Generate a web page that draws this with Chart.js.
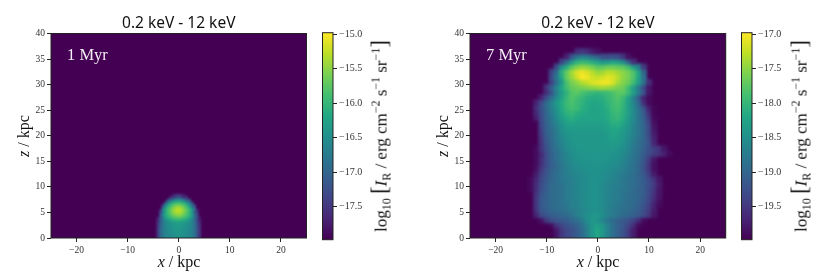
<!DOCTYPE html>
<html>
<head>
<meta charset="utf-8">
<title>X-ray surface brightness maps</title>
<script src="https://cdn.jsdelivr.net/npm/chart.js@4"></script>
<style>
    html, body { margin: 0; padding: 0; background: #fff; }
    #page { position: relative; width: 830px; height: 274px; overflow: hidden; filter: blur(0.3px); }
    canvas { position: absolute; top: 0; }
    .lbl { position: absolute; white-space: nowrap; font-family: "Liberation Serif", serif; color: #111; transform: translate(-50%, -50%); font-size: 16px; line-height: 1; }
    .rot { transform: translate(-50%, -50%) rotate(-90deg); }
    .wide { font-size: 17px; font-weight: 400; }
    .age { color: #f4eef4; font-size: 16.5px; transform: none; }
    .lbl i { font-style: italic; }
    .lbl sub, .lbl sup { font-size: 0.7em; line-height: 0; }
    .big { font-size: 1.35em; }
</style>
</head>
<body>
<div id="page">
    <canvas id="map1" width="322" height="274" style="left:0"></canvas>
    <canvas id="bar1" width="93" height="274" style="left:322px"></canvas>
    <canvas id="map7" width="322" height="274" style="left:415px"></canvas>
    <canvas id="bar7" width="89" height="274" style="left:741px"></canvas>

    <div class="lbl" style="left:179px;top:262px"><i>x</i> / kpc</div>
    <div class="lbl rot" style="left:24px;top:136px"><i>z</i> / kpc</div>
    <div class="lbl rot wide" style="left:380px;top:136px">log<sub>10</sub> <span class="big">[</span><i>I</i><sub>R</sub> / erg cm<sup>−2</sup> s<sup>−1</sup> sr<sup>−1</sup><span class="big">]</span></div>
    <div class="lbl age" style="left:67px;top:47px">1 Myr</div>

    <div class="lbl" style="left:598px;top:262px"><i>x</i> / kpc</div>
    <div class="lbl rot" style="left:443px;top:136px"><i>z</i> / kpc</div>
    <div class="lbl rot wide" style="left:800px;top:136px">log<sub>10</sub> <span class="big">[</span><i>I</i><sub>R</sub> / erg cm<sup>−2</sup> s<sup>−1</sup> sr<sup>−1</sup><span class="big">]</span></div>
    <div class="lbl age" style="left:486px;top:47px">7 Myr</div>
</div>

<script>
const titleText = "0.2 keV - 12 keV";
const xTicks = [-20, -10, 0, 10, 20];
const zTicks = [0, 5, 10, 15, 20, 25, 30, 35, 40];
const barTicks1 = [-15, -15.5, -16, -16.5, -17, -17.5];
const barTicks7 = [-17, -17.5, -18, -18.5, -19, -19.5];
const range1 = [-17.98, -14.98];
const range7 = [-19.98, -16.98];
const viridis = ["#440154", "#482475", "#414487", "#355f8d", "#2a788e", "#21918c", "#22a884", "#44bf70", "#7ad151", "#bddf26", "#fde725"];

// 1 Myr map, cells 0.5 kpc, one row per z step from z = 0.25 up
const cell1 = 0.5;
const start1 = [-4, -4, -4, -4, -4, -4, -4, -4, -3.5, -3.5, -3.5, -3, -3, -2.5, -2, -1.5, -1];
const rows1 = [
    [-17.5, -17.0, -16.8, -16.65, -16.6, -16.55, -16.5, -16.45, -16.42, -16.45, -16.5, -16.55, -16.6, -16.65, -16.8, -17.0, -17.5],
    [-17.5, -17.0, -16.8, -16.65, -16.6, -16.55, -16.5, -16.45, -16.42, -16.45, -16.5, -16.55, -16.6, -16.65, -16.8, -17.0, -17.5],
    [-17.5, -17.0, -16.8, -16.65, -16.58, -16.52, -16.48, -16.44, -16.42, -16.44, -16.48, -16.52, -16.58, -16.65, -16.8, -17.0, -17.5],
    [-17.5, -17.0, -16.8, -16.65, -16.58, -16.5, -16.45, -16.42, -16.4, -16.42, -16.45, -16.5, -16.58, -16.65, -16.8, -17.0, -17.5],
    [-17.5, -17.0, -16.8, -16.62, -16.55, -16.48, -16.42, -16.38, -16.36, -16.38, -16.42, -16.48, -16.55, -16.62, -16.8, -17.0, -17.5],
    [-17.55, -17.05, -16.8, -16.6, -16.5, -16.45, -16.4, -16.35, -16.32, -16.35, -16.4, -16.45, -16.5, -16.6, -16.8, -17.05, -17.55],
    [-17.6, -17.1, -16.8, -16.6, -16.5, -16.42, -16.36, -16.3, -16.28, -16.3, -16.36, -16.42, -16.5, -16.6, -16.8, -17.1, -17.6],
    [-17.7, -17.15, -16.8, -16.5, -16.3, -16.15, -16.05, -15.98, -15.95, -15.98, -16.05, -16.15, -16.3, -16.5, -16.8, -17.15, -17.7],
    [-17.2, -16.7, -16.2, -16.05, -15.9, -15.8, -15.7, -15.65, -15.7, -15.8, -15.9, -16.05, -16.2, -16.7, -17.2],
    [-17.3, -16.6, -16.2, -15.95, -15.8, -15.6, -15.5, -15.45, -15.5, -15.6, -15.8, -15.95, -16.2, -16.6, -17.3],
    [-17.5, -16.8, -16.2, -15.9, -15.7, -15.5, -15.35, -15.28, -15.35, -15.5, -15.7, -15.9, -16.2, -16.8, -17.5],
    [-16.7, -16.2, -15.9, -15.7, -15.5, -15.35, -15.28, -15.35, -15.5, -15.7, -15.9, -16.2, -16.7],
    [-17.2, -16.5, -16.1, -15.85, -15.65, -15.5, -15.45, -15.5, -15.65, -15.85, -16.1, -16.5, -17.2],
    [-17.0, -16.4, -16.1, -15.9, -15.8, -15.75, -15.8, -15.9, -16.1, -16.4, -17.0],
    [-17.0, -16.6, -16.3, -16.15, -16.1, -16.15, -16.3, -16.6, -17.0],
    [-17.4, -17.0, -16.8, -16.7, -16.8, -17.0, -17.4],
    [-17.7, -17.5, -17.4, -17.5, -17.7]
];

// 7 Myr map, cells 1 kpc, one row per z step from z = 0.5 up
const cell7 = 1;
const start7 = [-8, -8, -9, -11, -12, -12, -12, -12, -12, -13, -13, -13, -12, -12, -12, -12, -12, -12, -11, -11, -11, -11, -11, -12, -12, -12, -12, -11, -10, -10, -9, -9, -9, -8, -7, -6, -4];
const rows7 = [
    [-19.8, -19.5, -19.35, -19.25, -19.1, -18.95, -18.7, -18.4, -18.2, -18.4, -18.65, -18.9, -19.05, -19.25, -19.45, -19.75],
    [-19.8, -19.5, -19.35, -19.25, -19.1, -18.95, -18.7, -18.4, -18.2, -18.4, -18.65, -18.9, -19.05, -19.2, -19.45, -19.75],
    [-19.9, -19.55, -19.4, -19.25, -19.15, -19.05, -18.9, -18.65, -18.4, -18.3, -18.4, -18.65, -18.85, -19.05, -19.15, -19.35, -19.6, -19.9],
    [-19.85, -19.5, -19.3, -19.2, -19.15, -19.1, -19.0, -18.9, -18.75, -18.55, -18.4, -18.45, -18.65, -18.8, -18.95, -19.05, -19.15, -19.25, -19.4, -19.6, -19.9],
    [-19.7, -19.35, -19.2, -19.1, -19.05, -19.0, -18.95, -18.85, -18.7, -18.6, -18.5, -18.42, -18.42, -18.5, -18.65, -18.75, -18.85, -18.95, -19.0, -19.05, -19.15, -19.3, -19.5, -19.8],
    [-19.55, -19.2, -19.1, -19.0, -18.95, -18.9, -18.85, -18.75, -18.7, -18.6, -18.55, -18.48, -18.48, -18.55, -18.65, -18.75, -18.8, -18.9, -18.95, -19.0, -19.1, -19.25, -19.45, -19.75],
    [-19.5, -19.15, -19.05, -18.95, -18.9, -18.85, -18.8, -18.7, -18.65, -18.58, -18.52, -18.48, -18.48, -18.55, -18.65, -18.72, -18.8, -18.85, -18.9, -18.95, -19.05, -19.2, -19.4, -19.7, -19.9],
    [-19.5, -19.15, -19.05, -18.95, -18.9, -18.85, -18.75, -18.7, -18.65, -18.58, -18.52, -18.48, -18.48, -18.55, -18.65, -18.7, -18.75, -18.85, -18.9, -18.95, -19.0, -19.15, -19.35, -19.6, -19.85],
    [-19.55, -19.2, -19.05, -18.95, -18.9, -18.85, -18.75, -18.7, -18.62, -18.58, -18.52, -18.48, -18.48, -18.55, -18.62, -18.7, -18.75, -18.8, -18.9, -18.95, -19.0, -19.1, -19.3, -19.55, -19.8],
    [-19.9, -19.6, -19.25, -19.1, -18.95, -18.9, -18.85, -18.75, -18.7, -18.62, -18.56, -18.52, -18.48, -18.48, -18.56, -18.62, -18.68, -18.75, -18.8, -18.85, -18.95, -19.0, -19.1, -19.3, -19.5, -19.8],
    [-19.9, -19.6, -19.3, -19.1, -18.95, -18.9, -18.85, -18.75, -18.7, -18.62, -18.56, -18.52, -18.48, -18.48, -18.56, -18.62, -18.68, -18.72, -18.78, -18.85, -18.9, -19.0, -19.1, -19.25, -19.45, -19.75],
    [-19.9, -19.65, -19.35, -19.15, -19.0, -18.9, -18.8, -18.75, -18.7, -18.62, -18.56, -18.52, -18.48, -18.48, -18.52, -18.58, -18.62, -18.7, -18.78, -18.85, -18.9, -19.0, -19.1, -19.3, -19.5, -19.8],
    [-19.75, -19.4, -19.2, -19.0, -18.9, -18.8, -18.72, -18.65, -18.6, -18.56, -18.52, -18.48, -18.48, -18.52, -18.58, -18.62, -18.68, -18.75, -18.8, -18.9, -19.0, -19.15, -19.4, -19.75],
    [-19.85, -19.5, -19.25, -19.05, -18.95, -18.8, -18.7, -18.62, -18.56, -18.52, -18.48, -18.48, -18.48, -18.48, -18.52, -18.56, -18.62, -18.7, -18.78, -18.85, -19.0, -19.2, -19.5, -19.85],
    [-19.9, -19.6, -19.3, -19.1, -18.95, -18.8, -18.68, -18.6, -18.52, -18.48, -18.48, -18.45, -18.45, -18.45, -18.48, -18.52, -18.58, -18.65, -18.75, -18.85, -19.0, -19.2, -19.5, -19.85],
    [-19.9, -19.6, -19.3, -19.05, -18.9, -18.75, -18.62, -18.55, -18.48, -18.46, -18.44, -18.44, -18.44, -18.44, -18.44, -18.48, -18.52, -18.6, -18.72, -18.82, -18.95, -19.15, -19.45, -19.8],
    [-19.9, -19.65, -19.3, -19.05, -18.9, -18.75, -18.62, -18.52, -18.46, -18.44, -18.44, -18.44, -18.4, -18.44, -18.44, -18.48, -18.48, -18.55, -18.68, -18.82, -18.92, -19.1, -19.3, -19.45, -19.55, -19.7, -19.9],
    [-19.9, -19.55, -19.25, -19.0, -18.85, -18.7, -18.56, -18.48, -18.44, -18.42, -18.4, -18.4, -18.4, -18.4, -18.4, -18.4, -18.44, -18.5, -18.62, -18.78, -18.88, -19.05, -19.25, -19.4, -19.55, -19.8],
    [-19.55, -19.2, -19.0, -18.8, -18.65, -18.52, -18.45, -18.42, -18.4, -18.4, -18.4, -18.4, -18.4, -18.4, -18.35, -18.38, -18.45, -18.58, -18.72, -18.88, -19.0, -19.2, -19.65],
    [-19.5, -19.15, -18.95, -18.75, -18.6, -18.48, -18.42, -18.4, -18.4, -18.4, -18.4, -18.4, -18.4, -18.35, -18.3, -18.33, -18.42, -18.55, -18.7, -18.85, -19.0, -19.25, -19.7],
    [-19.45, -19.1, -18.95, -18.75, -18.55, -18.45, -18.42, -18.4, -18.4, -18.4, -18.4, -18.4, -18.4, -18.35, -18.25, -18.28, -18.38, -18.5, -18.65, -18.8, -19.0, -19.3, -19.75],
    [-19.4, -19.05, -18.9, -18.7, -18.52, -18.38, -18.35, -18.35, -18.35, -18.35, -18.35, -18.35, -18.35, -18.3, -18.2, -18.2, -18.32, -18.45, -18.65, -18.8, -19.0, -19.3, -19.8],
    [-19.35, -19.05, -18.85, -18.62, -18.45, -18.28, -18.25, -18.3, -18.3, -18.3, -18.3, -18.3, -18.3, -18.25, -18.1, -18.1, -18.22, -18.4, -18.6, -18.8, -19.0, -19.35, -19.85],
    [-19.75, -19.35, -19.0, -18.8, -18.55, -18.35, -18.18, -18.1, -18.18, -18.25, -18.25, -18.25, -18.25, -18.25, -18.15, -18.05, -18.0, -18.12, -18.35, -18.55, -18.8, -19.05, -19.45, -19.9],
    [-19.65, -19.3, -19.0, -18.75, -18.5, -18.25, -18.08, -18.0, -18.1, -18.15, -18.2, -18.25, -18.25, -18.2, -18.15, -18.0, -17.95, -18.08, -18.3, -18.55, -18.8, -19.1, -19.55, -19.95],
    [-19.6, -19.25, -18.95, -18.7, -18.45, -18.18, -18.0, -17.9, -17.95, -18.1, -18.15, -18.25, -18.25, -18.2, -18.1, -17.95, -17.9, -18.03, -18.28, -18.55, -18.85, -19.2, -19.7, -19.95],
    [-19.7, -19.3, -18.95, -18.65, -18.38, -18.15, -17.95, -17.85, -17.95, -18.05, -18.15, -18.2, -18.2, -18.15, -18.05, -17.95, -17.85, -18.0, -18.28, -18.6, -18.95, -19.55, -19.9],
    [-19.7, -19.25, -18.9, -18.55, -18.25, -18.0, -17.8, -17.9, -18.0, -18.1, -18.15, -18.15, -18.1, -18.0, -17.9, -17.8, -17.95, -18.25, -18.65, -19.1, -19.7, -19.9],
    [-19.6, -19.2, -18.7, -18.35, -18.05, -17.8, -17.75, -17.85, -17.95, -18.0, -18.05, -18.0, -17.95, -17.85, -17.75, -17.75, -17.95, -18.3, -18.7, -19.2, -19.8],
    [-19.55, -19.1, -18.6, -18.2, -17.9, -17.7, -17.65, -17.6, -17.55, -17.5, -17.45, -17.4, -17.45, -17.5, -17.6, -17.65, -17.9, -18.3, -18.75, -19.3, -19.8],
    [-19.4, -18.9, -18.4, -17.85, -17.6, -17.5, -17.35, -17.25, -17.15, -17.1, -17.05, -17.05, -17.15, -17.4, -17.55, -17.65, -17.9, -18.3, -18.8, -19.6],
    [-19.3, -18.8, -18.2, -17.7, -17.45, -17.2, -17.0, -17.05, -17.2, -17.25, -17.2, -17.1, -17.15, -17.3, -17.5, -17.6, -17.8, -18.2, -18.9],
    [-19.4, -18.9, -18.1, -17.7, -17.4, -17.15, -17.05, -17.15, -17.3, -17.45, -17.4, -17.3, -17.3, -17.4, -17.5, -17.6, -17.8, -18.2, -19.0],
    [-19.3, -18.5, -18.1, -17.75, -17.55, -17.45, -17.5, -17.6, -17.75, -17.75, -17.65, -17.65, -17.7, -17.75, -17.9, -18.3, -18.7, -19.5],
    [-19.4, -18.9, -18.4, -18.05, -17.95, -18.0, -18.1, -18.25, -18.4, -18.35, -18.2, -18.3, -18.5, -19.0, -19.6],
    [-19.7, -19.2, -18.8, -18.65, -18.7, -18.85, -19.0, -19.25, -19.3, -19.25, -19.3, -19.5, -19.85],
    [-19.6, -19.5, -19.6, -19.75, -19.85]
];

const inkColor = "#222";
const tickFont = { family: "'Liberation Serif', serif", size: 9.5 };
const barTickFont = { family: "'Liberation Serif', serif", size: 10 };

function hexToRgb(hex) {
    return [1, 3, 5].map((i) => parseInt(hex.slice(i, i + 2), 16));
}

function colorAt(t) {
    const pos = Math.min(Math.max(t, 0), 1) * (viridis.length - 1);
    const i = Math.min(Math.floor(pos), viridis.length - 2);
    const a = hexToRgb(viridis[i]);
    const b = hexToRgb(viridis[i + 1]);
    const c = a.map((v, k) => Math.round(v + (b[k] - v) * (pos - i)));
    return `rgb(${c[0]},${c[1]},${c[2]})`;
}

function minusLabel(text) {
    return String(text).replace("-", "\u2212");
}

// plot background is the lowest colour of the scale
const mapBackground = {
    id: "mapBackground",
    beforeDatasetsDraw(chart) {
        const a = chart.chartArea;
        chart.ctx.save();
        chart.ctx.fillStyle = viridis[0];
        chart.ctx.fillRect(a.left, a.top, a.right - a.left, a.bottom - a.top);
        chart.ctx.restore();
    }
};

// the original image is smoothed, so soften the cells a little
const mapSmooth = {
    id: "mapSmooth",
    afterDatasetsDraw(chart, args, opts) {
        const a = chart.chartArea;
        const w = a.right - a.left;
        const h = a.bottom - a.top;
        const ctx = chart.ctx;
        ctx.save();
        ctx.beginPath();
        ctx.rect(a.left, a.top, w, h);
        ctx.clip();
        ctx.filter = `blur(${opts.radius}px)`;
        ctx.drawImage(chart.canvas, a.left, a.top, w, h, a.left, a.top, w, h);
        ctx.restore();
    }
};

const frame = {
    id: "frame",
    afterDraw(chart) {
        const a = chart.chartArea;
        const ctx = chart.ctx;
        ctx.save();
        ctx.strokeStyle = inkColor;
        ctx.lineWidth = 1;
        ctx.strokeRect(a.left, a.top, a.right - a.left, a.bottom - a.top);
        ctx.restore();
    }
};

function drawMap(id, rows, starts, cell, range, leftWidth, rightPad, blur) {
    const points = [];
    const colors = [];
    rows.forEach((row, i) => {
        row.forEach((v, j) => {
            points.push({ x: starts[i] + j * cell, y: (i + 0.5) * cell });
            colors.push(colorAt((v - range[0]) / (range[1] - range[0])));
        });
    });

    new Chart(document.getElementById(id), {
        type: "scatter",
        data: {
            datasets: [{
                data: points,
                pointStyle: "rect",
                pointRadius: cell * 5.11 * Math.SQRT2 / 2 + 0.8,
                pointBorderWidth: 0,
                pointBackgroundColor: colors
            }]
        },
        options: {
            responsive: false,
            animation: false,
            layout: { padding: { right: rightPad, top: 0, bottom: 0, left: 0 } },
            scales: {
                x: {
                    type: "linear",
                    min: -25,
                    max: 25,
                    afterBuildTicks: (s) => { s.ticks = xTicks.map((v) => ({ value: v })); },
                    afterFit: (s) => { s.height = 36; },
                    grid: { drawOnChartArea: false, tickLength: 4, color: inkColor },
                    border: { display: false },
                    ticks: { font: tickFont, color: "#333", maxRotation: 0, padding: 3, callback: (v) => minusLabel(v) }
                },
                y: {
                    min: 0,
                    max: 40,
                    afterBuildTicks: (s) => { s.ticks = zTicks.map((v) => ({ value: v })); },
                    afterFit: (s) => { s.width = leftWidth; },
                    grid: { drawOnChartArea: false, tickLength: 4, color: inkColor },
                    border: { display: false },
                    ticks: { font: tickFont, color: "#333", padding: 2 }
                }
            },
            plugins: {
                legend: { display: false },
                tooltip: { enabled: false },
                title: {
                    display: true,
                    text: titleText,
                    fullSize: false,
                    color: "#111",
                    font: { family: "'Noto Sans', sans-serif", size: 15.5, weight: "normal" },
                    padding: { top: 14.5, bottom: 0.4 }
                },
                mapSmooth: { radius: blur }
            }
        },
        plugins: [mapBackground, mapSmooth, frame]
    });
}

function drawBar(id, ticks, range) {
    new Chart(document.getElementById(id), {
        type: "bar",
        data: {
            labels: [""],
            datasets: [{
                data: [range],
                barPercentage: 1,
                categoryPercentage: 1,
                backgroundColor(ctx) {
                    const a = ctx.chart.chartArea;
                    if (!a) return viridis[0];
                    const g = ctx.chart.ctx.createLinearGradient(0, a.bottom, 0, a.top);
                    viridis.forEach((c, i) => g.addColorStop(i / (viridis.length - 1), c));
                    return g;
                }
            }]
        },
        options: {
            responsive: false,
            animation: false,
            layout: { padding: { top: 32.7, bottom: 34.3, left: 0.5, right: 0 } },
            scales: {
                x: { display: false },
                y: {
                    position: "right",
                    min: range[0],
                    max: range[1],
                    afterBuildTicks: (s) => { s.ticks = ticks.map((v) => ({ value: v })); },
                    afterFit: (s) => { s.width = s.chart.width - 11; },
                    grid: { drawOnChartArea: false, tickLength: 4, color: inkColor },
                    border: { display: false },
                    ticks: { font: barTickFont, color: "#333", padding: 2, callback: (v) => minusLabel(v.toFixed(1)) }
                }
            },
            plugins: { legend: { display: false }, tooltip: { enabled: false } }
        },
        plugins: [frame]
    });
}

drawMap("map1", rows1, start1, cell1, range1, 51, 15.5, 0.9);
drawBar("bar1", barTicks1, range1);
drawMap("map7", rows7, start7, cell7, range7, 55, 11.3, 1.8);
drawBar("bar7", barTicks7, range7);
</script>
</body>
</html>
